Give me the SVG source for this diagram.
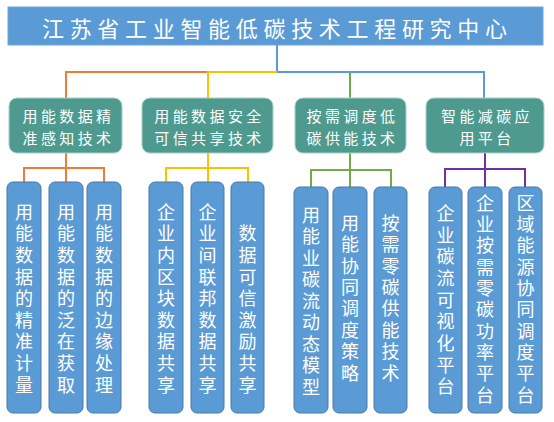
<svg xmlns="http://www.w3.org/2000/svg" width="554" height="422" viewBox="0 0 554 422">
<style>
.bg{fill:#ffffff}
.title{fill:#5B9BD5;stroke:#6fa6da;stroke-width:1}
.l1{fill:#4E9A8E;stroke:#a9cfc9;stroke-width:1}
.l2{fill:#5B9BD5;stroke:#4679ad;stroke-width:1}
.t{font-family:"Noto Sans CJK SC","Noto Sans",sans-serif;fill:#ffffff}
.tt{font-size:22px;dominant-baseline:central}
.t1{font-size:15px;letter-spacing:3.4px;text-anchor:middle;dominant-baseline:central}
.t2{font-size:18px;writing-mode:vertical-rl;text-anchor:start}
.c{fill:none;stroke-width:2}
.or{stroke:#ED7D31}
.ye{stroke:#FFC000}
.gr{stroke:#70AD47}
.bl{stroke:#5B9BD5}
.pu{stroke:#7030A0}
</style>
<rect class="bg" x="0" y="0" width="554" height="422"/>
<g id="connectors">
<path class="c bl" d="M277 45 V72 H484 V98"/>
<path class="c gr" d="M350 73 V98"/>
<path class="c or" d="M66 98 V72 H208"/>
<path class="c ye" d="M208 98 V72 H277"/>
<path class="c or" d="M66 153 V182 M24 182 V168 H104 V182"/>
<path class="c ye" d="M208 153 V182 M166 182 V168 H248 V182"/>
<path class="c gr" d="M350 153 V187 M311 187 V170 H391 V187"/>
<path class="c pu" d="M485 153 V187 M445 187 V169 H525 V187"/>
</g>
<g id="root">
<rect class="title" x="8" y="7" width="535" height="38"/>
<text class="t tt" x="42" y="27" textLength="465" lengthAdjust="spacing">江苏省工业智能低碳技术工程研究中心</text>
</g>
<g id="n1">
<rect class="l1" x="9" y="98" width="113" height="55" rx="8"/>
<text class="t t1" x="68.5" y="115">用能数据精</text>
<text class="t t1" x="68.5" y="137">准感知技术</text>
</g>
<g id="n2">
<rect class="l1" x="142" y="98" width="131" height="55" rx="8"/>
<text class="t t1" x="209.5" y="115">用能数据安全</text>
<text class="t t1" x="209.5" y="137">可信共享技术</text>
</g>
<g id="n3">
<rect class="l1" x="295" y="98" width="111" height="55" rx="8"/>
<text class="t t1" x="352.5" y="115">按需调度低</text>
<text class="t t1" x="352.5" y="137">碳供能技术</text>
</g>
<g id="n4">
<rect class="l1" x="426" y="98" width="118" height="55" rx="8"/>
<text class="t t1" x="487" y="115">智能减碳应</text>
<text class="t t1" x="487" y="137">用平台</text>
</g>
<g id="n1a">
<rect class="l2" x="7" y="182" width="34" height="231" rx="6"/>
<text class="t t2" x="24" y="203" style="letter-spacing:3.6px">用能数据的精准计量</text>
</g>
<g id="n1b">
<rect class="l2" x="49" y="182" width="34" height="231" rx="6"/>
<text class="t t2" x="66" y="203" style="letter-spacing:3.6px">用能数据的泛在获取</text>
</g>
<g id="n1c">
<rect class="l2" x="87" y="182" width="34" height="231" rx="6"/>
<text class="t t2" x="104" y="203" style="letter-spacing:3.6px">用能数据的边缘处理</text>
</g>
<g id="n2a">
<rect class="l2" x="149" y="182" width="34" height="231" rx="6"/>
<text class="t t2" x="166" y="203" style="letter-spacing:3.6px">企业内区块数据共享</text>
</g>
<g id="n2b">
<rect class="l2" x="191" y="182" width="33" height="231" rx="6"/>
<text class="t t2" x="207.5" y="203" style="letter-spacing:3.6px">企业间联邦数据共享</text>
</g>
<g id="n2c">
<rect class="l2" x="231" y="182" width="33" height="231" rx="6"/>
<text class="t t2" x="247.5" y="224.6" style="letter-spacing:3.6px">数据可信激励共享</text>
</g>
<g id="n3a">
<rect class="l2" x="294" y="187" width="34" height="226" rx="6"/>
<text class="t t2" x="311" y="206" style="letter-spacing:3.5px">用能业碳流动态模型</text>
</g>
<g id="n3b">
<rect class="l2" x="333" y="187" width="34" height="226" rx="6"/>
<text class="t t2" x="350" y="214" style="letter-spacing:3.4px">用能协同调度策略</text>
</g>
<g id="n3c">
<rect class="l2" x="374" y="187" width="33" height="226" rx="6"/>
<text class="t t2" x="390.5" y="214" style="letter-spacing:3.4px">按需零碳供能技术</text>
</g>
<g id="n4a">
<rect class="l2" x="429" y="187" width="33" height="226" rx="6"/>
<text class="t t2" x="445.5" y="204" style="letter-spacing:3.7px">企业碳流可视化平台</text>
</g>
<g id="n4b">
<rect class="l2" x="468" y="187" width="34" height="226" rx="6"/>
<text class="t t2" x="485" y="194" style="letter-spacing:3.3px">企业按需零碳功率平台</text>
</g>
<g id="n4c">
<rect class="l2" x="509" y="187" width="33" height="226" rx="6"/>
<text class="t t2" x="525.5" y="194" style="letter-spacing:3.3px">区域能源协同调度平台</text>
</g>
</svg>
